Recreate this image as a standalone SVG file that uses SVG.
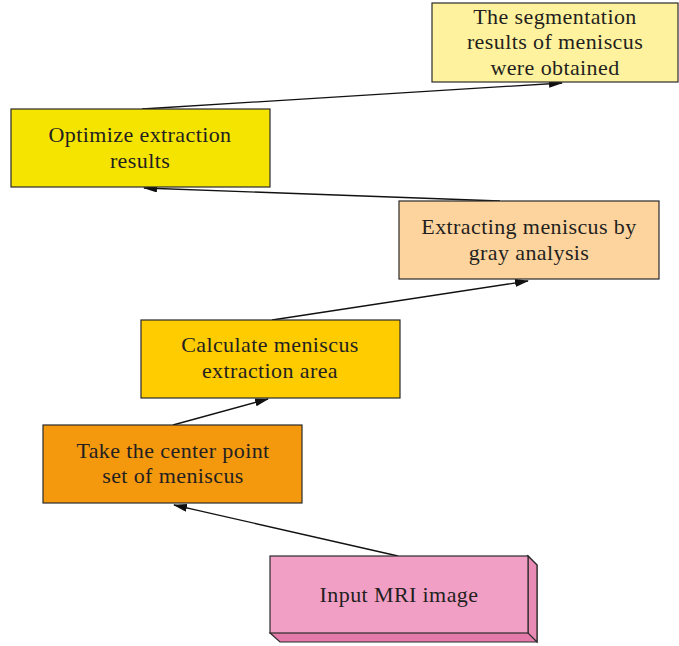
<svg xmlns="http://www.w3.org/2000/svg" width="679" height="646" viewBox="0 0 679 646">
<style>
.box{stroke:#2a2a2a;stroke-width:1.2}
.t{font-family:"Liberation Serif","DejaVu Serif",serif;font-size:22px;letter-spacing:0.4px;fill:#231f20;text-anchor:middle}
.c{stroke:#111;stroke-width:1.3;fill:none;marker-end:url(#ah)}
</style>
<defs>
<marker id="ah" markerWidth="14" markerHeight="8" refX="13" refY="4" orient="auto" markerUnits="userSpaceOnUse">
<path d="M0,0 L14,4 L0,8 Z" fill="#111"/>
</marker>
</defs>
<rect width="679" height="646" fill="#fff"/>
<g id="connectors">
<line class="c" x1="398" y1="556" x2="174" y2="505"/>
<line class="c" x1="173" y1="425" x2="268" y2="399"/>
<line class="c" x1="272" y1="320" x2="528" y2="281"/>
<line class="c" x1="500" y1="201" x2="144" y2="188"/>
<line class="c" x1="142" y1="109" x2="562" y2="83"/>
</g>
<g id="n1">
<rect class="box" x="432" y="3" width="246" height="79" fill="#fff29e"/>
<text class="t" x="555" y="24">The segmentation</text>
<text class="t" x="555" y="49">results of meniscus</text>
<text class="t" x="555" y="75">were obtained</text>
</g>
<g id="n2">
<rect class="box" x="11" y="109" width="259" height="78" fill="#f5e400"/>
<text class="t" x="140" y="142">Optimize extraction</text>
<text class="t" x="140" y="168">results</text>
</g>
<g id="n3">
<rect class="box" x="399" y="201" width="260" height="78" fill="#fdd49e"/>
<text class="t" x="529" y="234">Extracting meniscus by</text>
<text class="t" x="529" y="260">gray analysis</text>
</g>
<g id="n4">
<rect class="box" x="141" y="320" width="259" height="78" fill="#ffcc00"/>
<text class="t" x="270" y="352">Calculate meniscus</text>
<text class="t" x="270" y="378">extraction area</text>
</g>
<g id="n5">
<rect class="box" x="43" y="425" width="259" height="78" fill="#f4990e"/>
<text class="t" x="173" y="458">Take the center point</text>
<text class="t" x="173" y="483">set of meniscus</text>
</g>
<g id="n6">
<path class="box" d="M528,556 L537,565 L537,642 L280,642 L270,633 Z" fill="#e37aaa"/>
<path class="box" d="M528,556 L537,565 L537,642 L528,633 Z" fill="#e88cb6"/>
<rect class="box" x="270" y="556" width="258" height="77" fill="#f29fc6"/>
<text class="t" x="399" y="602">Input MRI image</text>
</g>
</svg>
